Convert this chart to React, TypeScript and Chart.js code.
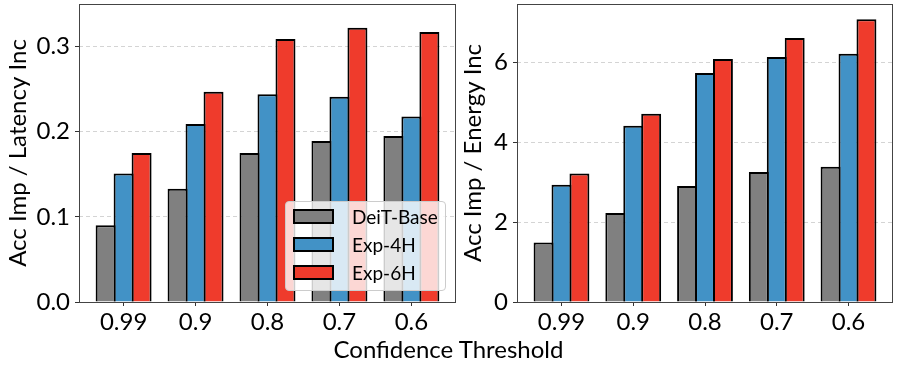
import React, { useEffect, useRef } from "react";
import { Chart, registerables } from "chart.js";

Chart.register(...registerables);

// ---- data ----
const categories = ["0.99", "0.9", "0.8", "0.7", "0.6"];
const seriesNames = ["DeiT-Base", "Exp-4H", "Exp-6H"];
const seriesColors = ["#808080", "#4292c6", "#ef3b2c"];

const latencyDeiT = [0.09, 0.133, 0.175, 0.189, 0.195];
const latencyExp4H = [0.151, 0.209, 0.244, 0.241, 0.218];
const latencyExp6H = [0.175, 0.247, 0.309, 0.322, 0.317];

const energyDeiT = [1.49, 2.23, 2.91, 3.26, 3.39];
const energyExp4H = [2.94, 4.42, 5.74, 6.14, 6.22];
const energyExp6H = [3.22, 4.72, 6.09, 6.62, 7.09];

const latencyTicks = [0, 0.1, 0.2, 0.3];
const latencyTickLabels = ["0.0", "0.1", "0.2", "0.3"];
const energyTicks = [0, 2, 4, 6];
const energyTickLabels = ["0", "2", "4", "6"];

const latencyMax = 0.35;
const energyMax = 7.47;

const xTitle = "Confidence Threshold";
const latencyTitle = "Acc Imp / Latency Inc";
const energyTitle = "Acc Imp / Energy Inc";

const FONT = "Lato, 'DejaVu Sans', sans-serif";

const framePlugin = {
  id: "frame",
  afterDraw(chart: any) {
    const { ctx, chartArea } = chart;
    ctx.save();
    ctx.strokeStyle = "#444";
    ctx.lineWidth = 1;
    ctx.strokeRect(
      Math.round(chartArea.left) + 0.5,
      Math.round(chartArea.top) + 0.5,
      Math.round(chartArea.right - chartArea.left) - 1,
      Math.round(chartArea.bottom - chartArea.top)
    );
    ctx.restore();
  },
};

function makeConfig(
  series: number[][],
  yMax: number,
  yTicks: number[],
  yTickLabels: string[],
  yTitle: string,
  yWidth: number,
  titlePad: number
): any {
  return {
    type: "bar",
    data: {
      datasets: series.map((vals, si) => ({
        label: seriesNames[si],
        data: vals.map((v, i) => ({ x: i, y: v })),
        backgroundColor: seriesColors[si],
        borderColor: "#000",
        borderWidth: 2,
        barPercentage: 20 / 18,
        categoryPercentage: 0.75,
      })),
    },
    options: {
      responsive: false,
      animation: false,
      layout: { padding: { top: 4, right: 4, left: 0, bottom: 0 } },
      plugins: { legend: { display: false }, tooltip: { enabled: false } },
      scales: {
        x: {
          type: "linear",
          offset: false,
          min: -0.62,
          max: categories.length - 1 + 0.62,
          afterBuildTicks: (scale: any) => {
            scale.ticks = categories.map((_, i) => ({ value: i }));
          },
          afterFit: (scale: any) => {
            scale.height = 66;
            scale.paddingLeft = 0;
            scale.paddingRight = 0;
          },
          ticks: {
            autoSkip: false,
            maxRotation: 0,
            padding: 2,
            color: "#000",
            font: { family: FONT, size: 24 },
            callback: (_v: any, i: number) => categories[i],
          },
          grid: {
            offset: false,
            drawOnChartArea: false,
            drawTicks: true,
            tickLength: 4,
            tickColor: "#333",
            tickWidth: 1,
          },
          border: { display: false },
        },
        y: {
          type: "linear",
          min: 0,
          max: yMax,
          afterBuildTicks: (scale: any) => {
            scale.ticks = yTicks.map((v) => ({ value: v }));
          },
          afterFit: (scale: any) => {
            scale.width = yWidth;
            scale.paddingTop = 0;
            scale.paddingBottom = 0;
          },
          ticks: {
            padding: 5,
            color: "#000",
            font: { family: FONT, size: 24 },
            callback: (_v: any, i: number) => yTickLabels[i],
          },
          grid: {
            drawTicks: true,
            tickLength: 4,
            tickColor: "#333",
            tickWidth: 1,
            lineWidth: 1,
            color: (c: any) => (c.tick && c.tick.value === 0 ? "rgba(0,0,0,0)" : "#d4d4d4"),
          },
          border: { display: false, dash: [4, 3] },
          title: {
            display: true,
            text: yTitle,
            color: "#000",
            font: { family: FONT, size: 24, lineHeight: 1 },
            padding: { top: titlePad, bottom: 0 },
          },
        },
      },
    },
    plugins: [framePlugin],
  };
}

function BarPanel(props: {
  left: number;
  width: number;
  series: number[][];
  yMax: number;
  yTicks: number[];
  yTickLabels: string[];
  yTitle: string;
  yWidth: number;
  titlePad: number;
}) {
  const ref = useRef<HTMLCanvasElement | null>(null);
  useEffect(() => {
    if (!ref.current) return;
    const chart = new Chart(
      ref.current,
      makeConfig(
        props.series,
        props.yMax,
        props.yTicks,
        props.yTickLabels,
        props.yTitle,
        props.yWidth,
        props.titlePad
      )
    );
    return () => chart.destroy();
  }, []);
  return (
    <canvas
      ref={ref}
      width={props.width}
      height={368}
      style={{
        position: "absolute",
        left: props.left,
        top: 0,
        width: props.width,
        height: 368,
        display: "block",
      }}
    />
  );
}

export default function App() {
  const rowCenters = [14, 42.2, 70.5];
  return (
    <div
      style={{
        position: "fixed",
        left: 0,
        top: 0,
        width: 897,
        height: 368,
        background: "#fff",
        overflow: "hidden",
        fontFamily: FONT,
      }}
    >
      <BarPanel
        left={0}
        width={460}
        series={[latencyDeiT, latencyExp4H, latencyExp6H]}
        yMax={latencyMax}
        yTicks={latencyTicks}
        yTickLabels={latencyTickLabels}
        yTitle={latencyTitle}
        yWidth={79}
        titlePad={6}
      />
      <BarPanel
        left={460}
        width={437}
        series={[energyDeiT, energyExp4H, energyExp6H]}
        yMax={energyMax}
        yTicks={energyTicks}
        yTickLabels={energyTickLabels}
        yTitle={energyTitle}
        yWidth={57}
        titlePad={1}
      />
      <div
        style={{
          position: "absolute",
          left: 0,
          width: 897,
          top: 337,
          textAlign: "center",
          fontSize: 24,
          lineHeight: "24px",
          color: "#000",
          whiteSpace: "nowrap",
        }}
      >
        {xTitle}
      </div>
      <div
        style={{
          position: "absolute",
          left: 285,
          top: 201,
          width: 161,
          height: 90,
          boxSizing: "border-box",
          border: "1px solid #cccccc",
          borderRadius: 4,
          background: "rgba(255,255,255,0.8)",
        }}
      >
        {seriesNames.map((name, i) => (
          <div
            key={name}
            style={{
              position: "absolute",
              left: 0,
              top: rowCenters[i] - 14,
              height: 28,
              display: "flex",
              alignItems: "center",
              whiteSpace: "nowrap",
            }}
          >
            <div
              style={{
                marginLeft: 7,
                width: 41,
                height: 15,
                boxSizing: "border-box",
                border: "2px solid #000",
                background: seriesColors[i],
              }}
            />
            <div style={{ marginLeft: 18, fontSize: 19, lineHeight: "19px", color: "#000" }}>
              {name}
            </div>
          </div>
        ))}
      </div>
    </div>
  );
}
